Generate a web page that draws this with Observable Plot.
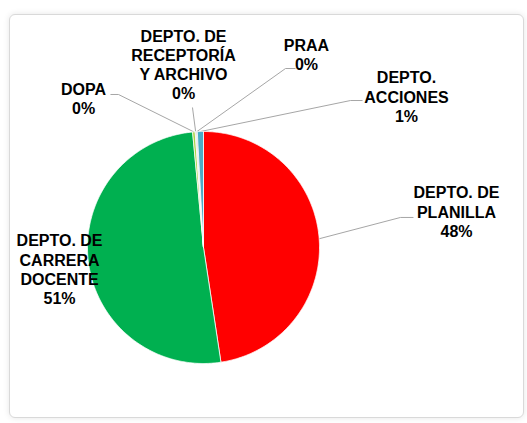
<!DOCTYPE html>
<html><head><meta charset="utf-8">
<script src="https://cdn.jsdelivr.net/npm/d3@7"></script>
<script src="https://cdn.jsdelivr.net/npm/@observablehq/plot@0.6"></script>
<style>
body{margin:0;background:#fff;}
#wrap{position:relative;width:527px;height:423px;overflow:hidden;}
#frame{position:absolute;left:9px;top:14px;width:513px;height:402px;border:1px solid #d9d9d9;border-radius:6px;box-shadow:0 0 6px rgba(0,0,0,0.10);background:#fff;}
#chart{position:absolute;left:0;top:0;}
</style></head><body>
<div id="wrap"><div id="frame"></div><div id="chart"></div></div>
<script>
// Data (clockwise from 12 o'clock)
const categories = ["PLANILLA", "CARRERA DOCENTE", "DOPA", "RECEPTORIA", "PRAA", "ACCIONES"];
const labelNames = ["DEPTO. DE\nPLANILLA", "DEPTO. DE\nCARRERA\nDOCENTE", "DOPA", "DEPTO. DE\nRECEPTORÍA\nY ARCHIVO", "PRAA", "DEPTO.\nACCIONES"];
const values = [47.6, 50.9, 0.35, 0.15, 0.15, 0.85];
const colors = ["#ff0000", "#00b050", "#a9d143", "#bfbfbf", "#a5a5a5", "#4bacc6"];

// Label layout, in pie-radius units from the centre
const labelXY = [[2.181, 0.310], [-1.241, -0.185], [-1.034, 1.284], [-0.172, 1.578], [0.888, 1.668], [1.750, 1.302]];
const leaderStart = [[1.810, 0.259], null, [-0.802, 1.319], [-0.095, 1.207], [0.793, 1.543], [1.371, 1.267]];
const leaderElbow = [[1.698, 0.259], null, [-0.733, 1.319], null, [0.707, 1.543], [1.267, 1.267]];

const total = d3.sum(values);
const fmt = d3.format(".0%");
const arcs = d3.pie().sort(null).value(d => d)(values);

const slicePts = [];
arcs.forEach((a, i) => {
  const n = Math.max(2, Math.ceil((a.endAngle - a.startAngle) / 0.01));
  slicePts.push({key: categories[i], x: 0, y: 0});
  for (let k = 0; k <= n; k++) {
    const t = a.startAngle + (a.endAngle - a.startAngle) * k / n;
    slicePts.push({key: categories[i], x: Math.sin(t), y: Math.cos(t)});
  }
  slicePts.push({key: categories[i], x: 0, y: 0});
});

const labels = categories.map((c, i) => ({
  key: c, x: labelXY[i][0], y: labelXY[i][1],
  text: labelNames[i] + "\n" + fmt(values[i] / total)
}));

const leaderPts = [];
arcs.forEach((a, i) => {
  if (!leaderStart[i]) return;
  const m = (a.startAngle + a.endAngle) / 2;
  leaderPts.push({key: categories[i], x: leaderStart[i][0], y: leaderStart[i][1]});
  if (leaderElbow[i]) leaderPts.push({key: categories[i], x: leaderElbow[i][0], y: leaderElbow[i][1]});
  leaderPts.push({key: categories[i], x: Math.sin(m), y: Math.cos(m)});
});

const chart = Plot.plot({
  width: 527, height: 423, margin: 0,
  style: {background: "transparent", overflow: "visible"},
  x: {domain: [-1, 1], range: [87, 319], axis: null},
  y: {domain: [-1, 1], range: [363, 131], axis: null},
  color: {domain: categories, range: colors},
  marks: [
    Plot.line(leaderPts, {x: "x", y: "y", z: "key", stroke: "#a6a6a6", strokeWidth: 1, strokeLinecap: "butt", curve: "linear"}),
    Plot.line(slicePts, {x: "x", y: "y", z: "key", fill: "key", stroke: "#ffffff", strokeWidth: 0.75, curve: "linear"}),
    Plot.text(labels, {x: "x", y: "y", text: "text", fill: "#000", fontSize: 16, fontWeight: "bold",
      fontFamily: "'Liberation Sans', Arial, sans-serif", lineHeight: 1.2, textAnchor: "middle"})
  ]
});
document.getElementById("chart").appendChild(chart);
</script>
</body></html>
